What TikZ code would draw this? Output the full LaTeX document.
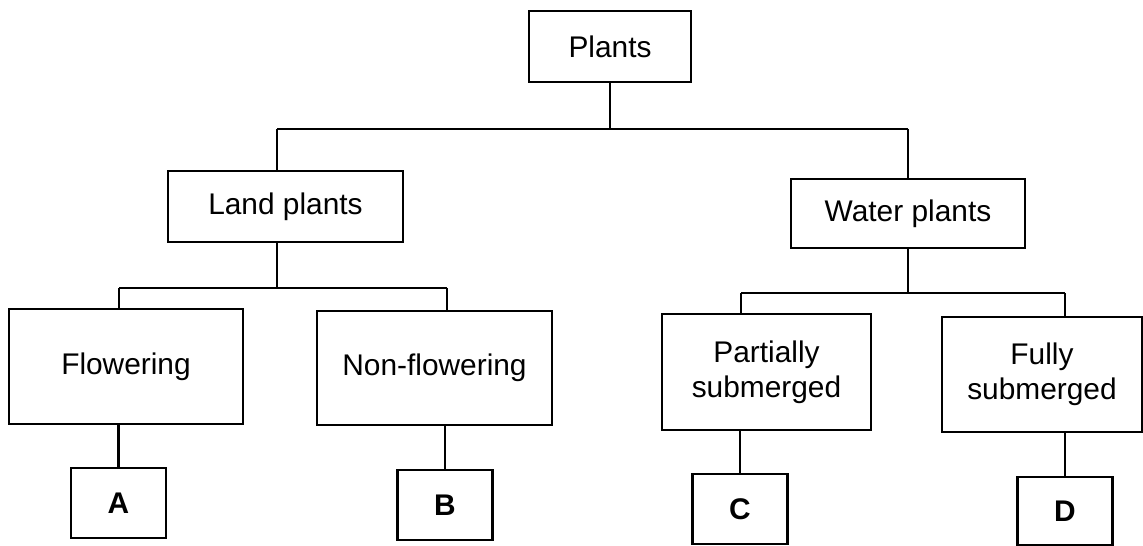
\documentclass[tikz,border=0pt]{standalone}
\usepackage{fontspec}
\setmainfont{Liberation Sans}
\begin{document}
\begin{tikzpicture}[x=0.02cm,y=-0.02cm,
  box/.style={draw=black,line width=1.3pt,rectangle,inner sep=0pt,align=center,
    font=\fontsize{17}{20}\selectfont},
  letterbox/.style={box,minimum width=1.9cm,minimum height=1.4cm,font=\fontsize{17}{20}\selectfont\bfseries},
  conn/.style={draw=black,line width=1.3pt}]
\useasboundingbox (0,0) rectangle (1143,546);
% level 0
\node[box,minimum width=3.24cm,minimum height=1.42cm] (plants) at (610,46.5) {Plants};
% level 1
\node[box,minimum width=4.70cm,minimum height=1.42cm] (land) at (285.5,206.5) {Land plants};
\node[box,minimum width=4.68cm,minimum height=1.38cm] (water) at (908,213.5) {Water plants};
% level 2
\node[box,minimum width=4.68cm,minimum height=2.30cm] (flow) at (126,366.5) {Flowering};
\node[box,minimum width=4.70cm,minimum height=2.28cm] (nonflow) at (434.5,368) {Non-flowering};
\node[box,minimum width=4.18cm,minimum height=2.32cm] (partial) at (766.5,372) {Partially\\submerged};
\node[box,minimum width=4.00cm,minimum height=2.30cm] (fully) at (1042,374.5) {Fully\\submerged};
% level 3
\node[letterbox] (A) at (118.5,503) {A};
\node[letterbox] (B) at (445,505) {B};
\node[letterbox] (C) at (740,509) {C};
\node[letterbox,minimum height=1.36cm] (D) at (1065,511) {D};
% bus coordinates
\coordinate (b0) at (610,129);
\coordinate (bl) at (277,129);
\coordinate (br) at (908,129);
\coordinate (s1l) at (119,288);
\coordinate (s1m) at (277,288);
\coordinate (s1r) at (447,288);
\coordinate (s2l) at (741,293);
\coordinate (s2m) at (908,293);
\coordinate (s2r) at (1065,293);
% connectors level 0 -> 1
\draw[conn] (plants.south) -- (b0);
\draw[conn] (bl) -- (br);
\draw[conn] (bl) -- (bl |- land.north);
\draw[conn] (br) -- (water.north);
% land -> children
\draw[conn] (land.south -| s1m) -- (s1m);
\draw[conn] (s1l) -- (s1r);
\draw[conn] (s1l) -- (s1l |- flow.north);
\draw[conn] (s1r) -- (s1r |- nonflow.north);
% water -> children
\draw[conn] (water.south) -- (s2m);
\draw[conn] (s2l) -- (s2r);
\draw[conn] (s2l) -- (s2l |- partial.north);
\draw[conn] (s2r) -- (s2r |- fully.north);
% leaves
\draw[conn] (A.north) -- (A.north |- flow.south);
\draw[conn] (B.north) -- (B.north |- nonflow.south);
\draw[conn] (C.north) -- (C.north |- partial.south);
\draw[conn] (D.north) -- (D.north |- fully.south);
\end{tikzpicture}
\end{document}
